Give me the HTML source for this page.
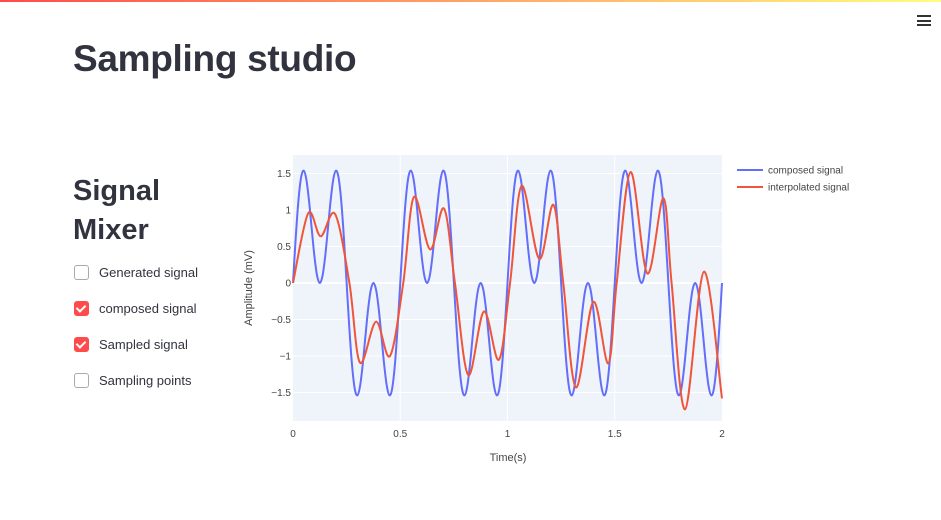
<!DOCTYPE html>
<html><head><meta charset="utf-8">
<style>
body{margin:0;width:941px;height:520px;background:#fff;font-family:"Liberation Sans","DejaVu Sans",sans-serif;position:relative;overflow:hidden;color:#31333f}
#topbar{position:absolute;left:0;top:0;width:941px;height:2px;background:linear-gradient(90deg,#ff4b4b,#fffd80)}
h1{position:absolute;left:73px;top:38px;margin:0;font-size:37px;font-weight:bold;letter-spacing:-0.3px}
h2{position:absolute;left:73px;top:172px;margin:0;font-size:29px;font-weight:600;line-height:39px}
.cb{position:absolute;left:74px;font-size:13px;color:#31333f}
.box{display:inline-block;width:13px;height:13px;border:1px solid #aaa;border-radius:3px;vertical-align:-3px;margin-right:10px;background:#fff;position:relative}
.box.on{background:#ff4b4b;border-color:#ff4b4b}
.box.on:after{content:"";position:absolute;left:3px;top:1px;width:4px;height:7px;border:solid #fff;border-width:0 2px 2px 0;transform:rotate(45deg)}
#menu{position:absolute;left:917px;top:15px;width:14px}
#menu div{height:2px;background:#333;margin-bottom:2.5px}
svg text{font-family:"Liberation Sans",sans-serif}
</style></head><body>
<div id="topbar"></div>
<div id="menu"><div></div><div></div><div></div></div>
<h1>Sampling studio</h1>
<h2>Signal<br>Mixer</h2>
<div class="cb" style="top:265px"><span class="box"></span>Generated signal</div>
<div class="cb" style="top:301px"><span class="box on"></span>composed signal</div>
<div class="cb" style="top:337px"><span class="box on"></span>Sampled signal</div>
<div class="cb" style="top:373px"><span class="box"></span>Sampling points</div>
<svg id="chart" width="941" height="520" style="position:absolute;left:0;top:0"></svg>
<script>
const xTicks=[0,0.5,1,1.5,2];
const xTickLabels=["0","0.5","1","1.5","2"];
const yTicks=[-1.5,-1,-0.5,0,0.5,1,1.5];
const yTickLabels=["−1.5","−1","−0.5","0","0.5","1","1.5"];
const composedStep=0.0125;
const composedValues=[
0,.610,1.118,1.442,1.539,1.414,1.118,.735,.363,.097,0,.097,.363,.735,1.118,1.414,1.539,1.442,1.118,.610,
0,-.610,-1.118,-1.442,-1.539,-1.414,-1.118,-.735,-.363,-.097,0,-.097,-.363,-.735,-1.118,-1.414,-1.539,-1.442,-1.118,-.610,
0,.610,1.118,1.442,1.539,1.414,1.118,.735,.363,.097,0,.097,.363,.735,1.118,1.414,1.539,1.442,1.118,.610,
0,-.610,-1.118,-1.442,-1.539,-1.414,-1.118,-.735,-.363,-.097,0,-.097,-.363,-.735,-1.118,-1.414,-1.539,-1.442,-1.118,-.610,
0,.610,1.118,1.442,1.539,1.414,1.118,.735,.363,.097,0,.097,.363,.735,1.118,1.414,1.539,1.442,1.118,.610,
0,-.610,-1.118,-1.442,-1.539,-1.414,-1.118,-.735,-.363,-.097,0,-.097,-.363,-.735,-1.118,-1.414,-1.539,-1.442,-1.118,-.610,
0,.610,1.118,1.442,1.539,1.414,1.118,.735,.363,.097,0,.097,.363,.735,1.118,1.414,1.539,1.442,1.118,.610,
0,-.610,-1.118,-1.442,-1.539,-1.414,-1.118,-.735,-.363,-.097,0,-.097,-.363,-.735,-1.118,-1.414,-1.539,-1.442,-1.118,-.610,
0];
const interpTimes=[0,0.071,0.129,0.196,0.263,0.312,0.387,0.452,0.514,0.564,0.639,0.704,0.755,0.817,0.890,0.960,1.012,1.066,1.148,1.214,1.26,1.319,1.40,1.47,1.509,1.574,1.652,1.727,1.765,1.828,1.916,2.0];
const interpValues=[0,0.955,0.64,0.945,0,-1.09,-0.53,-1.0,0,1.18,0.46,1.02,0,-1.26,-0.39,-1.05,0,1.33,0.33,1.07,0,-1.43,-0.26,-1.10,0,1.52,0.13,1.16,0,-1.73,0.155,-1.58];

const NS="http://www.w3.org/2000/svg";
const svg=document.getElementById('chart');
const X0=293,X1=722,YT=155,YB=421;
const sx=t=>X0+(t-0)/(2-0)*(X1-X0);
const sy=v=>283-v*73;
function el(tag,attrs,parent){const e=document.createElementNS(NS,tag);for(const k in attrs)e.setAttribute(k,attrs[k]);(parent||svg).appendChild(e);return e;}
const bg=el('rect',{x:X0,y:YT,width:X1-X0,height:YB-YT,fill:'#e5ecf6',opacity:0.6});


yTicks.forEach((v,i)=>{
  const g=el('line',{x1:X0,x2:X1,y1:sy(v),y2:sy(v),stroke:'#fff','stroke-width':v===0?2:1});
  
  
  const t=el('text',{x:X0-2,y:sy(v)+3.5,'text-anchor':'end','font-size':10,fill:'#444'});
  t.textContent=yTickLabels[i];
  
  
});
xTicks.forEach((v,i)=>{
  if(v>0&&v<2){const g=el('line',{x1:sx(v),x2:sx(v),y1:YT,y2:YB,stroke:'#fff','stroke-width':1});
  
  }
  const t=el('text',{x:sx(v),y:437,'text-anchor':'middle','font-size':10,fill:'#444'});
  t.textContent=xTickLabels[i];
  
  
});
function smooth(pts){
  let d='M'+pts[0][0].toFixed(2)+','+pts[0][1].toFixed(2);
  for(let i=0;i<pts.length-1;i++){
    const p0=pts[Math.max(0,i-1)],p1=pts[i],p2=pts[i+1],p3=pts[Math.min(pts.length-1,i+2)];
    const c1=[p1[0]+(p2[0]-p0[0])/6,p1[1]+(p2[1]-p0[1])/6];
    const c2=[p2[0]-(p3[0]-p1[0])/6,p2[1]-(p3[1]-p1[1])/6];
    d+=`C${c1[0].toFixed(2)},${c1[1].toFixed(2)} ${c2[0].toFixed(2)},${c2[1].toFixed(2)} ${p2[0].toFixed(2)},${p2[1].toFixed(2)}`;
  }
  return d;
}
const cPts=composedValues.map((v,i)=>[sx(i*composedStep),sy(v)]);
const cl=el('path',{d:smooth(cPts),fill:'none',stroke:'#636efa','stroke-width':2});


const iPts=interpValues.map((v,i)=>[sx(interpTimes[i]),sy(v)]);
const il=el('path',{d:smooth(iPts),fill:'none',stroke:'#ef553b','stroke-width':2});


const xt=el('text',{x:508,y:461,'text-anchor':'middle','font-size':11,fill:'#444'});
xt.textContent='Time(s)';


const yt=el('text',{x:0,y:0,'text-anchor':'middle','font-size':11,fill:'#444',transform:'translate(252,288) rotate(-90)'});
yt.textContent='Amplitude (mV)';


[['composed signal','#636efa',170],['interpolated signal','#ef553b',187]].forEach(([n,c,y])=>{
  const g=el('g',{});
  
  
  el('line',{x1:737,x2:763,y1:y,y2:y,stroke:c,'stroke-width':2},g);
  const t=el('text',{x:768,y:y+3.5,'font-size':10,fill:'#444'},g);
  t.textContent=n;
});
</script>
</body></html>
